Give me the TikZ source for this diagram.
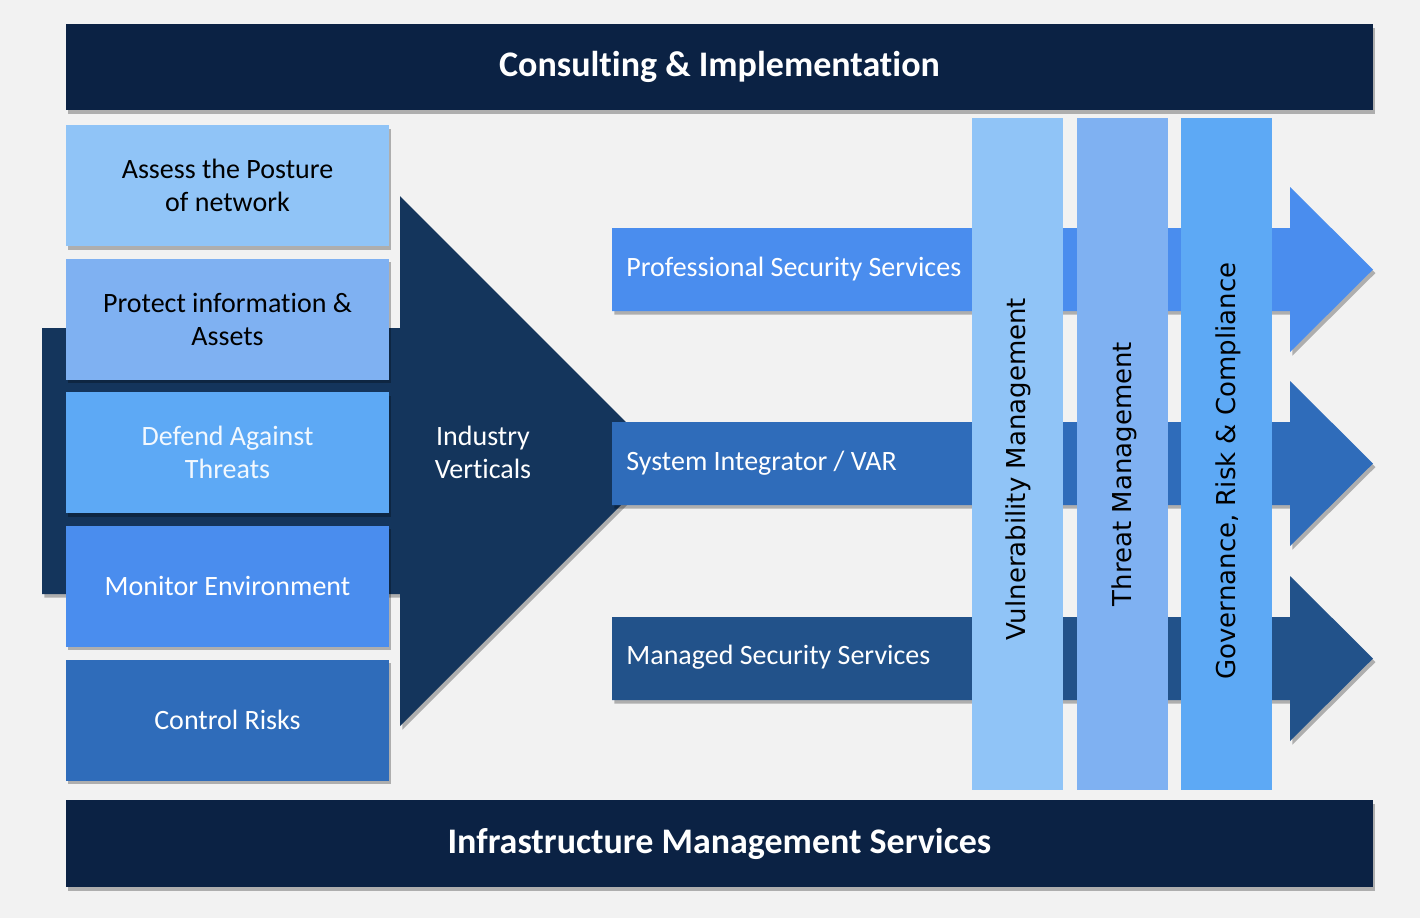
\documentclass[tikz,border=0pt]{standalone}
\usepackage{fontspec}
\setmainfont{Carlito}[Ligatures={NoCommon}]
\newfontfamily\vertfont{DejaVu Sans}
\usepackage{xcolor}
\usepackage{tikz}
\usetikzlibrary{shadows}
\definecolor{pagegray}{HTML}{F2F2F2}
\definecolor{barnavy}{HTML}{0B2244}
\definecolor{funnelnavy}{HTML}{14355C}
\definecolor{skyblue}{HTML}{90C4F7}
\definecolor{paleblue}{HTML}{7FB1F2}
\definecolor{midblue}{HTML}{5DA9F5}
\definecolor{brightblue}{HTML}{4A8DEE}
\definecolor{steelblue}{HTML}{2F6CBA}
\definecolor{deepblue}{HTML}{22528A}

\begin{document}
\begin{tikzpicture}[x=0.5pt,y=-0.5pt,
    shade/.style={drop shadow={shadow xshift=1.2pt,shadow yshift=-1.8pt,opacity=0.28,fill=black}},
    bar/.style={rectangle,fill=barnavy,minimum width=653.5pt,minimum height=43pt,inner sep=0pt,shade,font=\fontsize{18}{21}\selectfont\bfseries,text=white},
    goalbox/.style={rectangle,minimum width=161.5pt,minimum height=60.5pt,inner sep=0pt,shade,align=center,font=\fontsize{14}{16.5}\selectfont},
    column/.style={rectangle,minimum width=45.5pt,minimum height=336pt,inner sep=0pt},
    colname/.style={rotate=90,font=\vertfont\fontsize{13}{15}\selectfont},
    arrowname/.style={anchor=west,inner sep=0pt,text=white,font=\fontsize{14}{16}\selectfont}]
            \fill[pagegray] (0,0) rectangle (1420,918);
            \useasboundingbox (0,0) rectangle (1420,918);
            % top and bottom bars
            \node[bar] (consult) at (719.5,67) {Consulting \& Implementation};
            \node[bar,minimum height=43.5pt] (infra) at (719.5,843.5) {Infrastructure Management Services};
            % funnel
            \fill[funnelnavy,shade] (42,328) -- (400,328) -- (400,196) -- (665,461) -- (400,726) -- (400,594) -- (42,594) -- cycle;
            \node[align=center,text=white,font=\fontsize{14}{16.5}\selectfont] (verticals) at (483,452) {Industry\\Verticals};
            % goals on the left
            \node[goalbox,fill=skyblue] (assess) at (227.5,185.5) {Assess the Posture\\of network};
            \node[goalbox,fill=paleblue] (protect) at (227.5,319) {Protect information \&\\Assets};
            \node[goalbox,fill=midblue,text=white!92!midblue] (defend) at (227.5,452.5) {Defend Against\\Threats};
            \node[goalbox,fill=brightblue,text=white] (monitor) at (227.5,586) {Monitor Environment};
            \node[goalbox,fill=steelblue,text=white] (control) at (227.5,720) {Control Risks};
            % service arrows
            \fill[brightblue,shade] (612,228) -- (1290,228) -- (1290,187) -- (1373,269.5) -- (1290,352) -- (1290,311) -- (612,311) -- cycle;
            \fill[steelblue,shade] (612,422) -- (1290,422) -- (1290,381) -- (1373,463.5) -- (1290,546) -- (1290,505) -- (612,505) -- cycle;
            \fill[deepblue,shade] (612,617) -- (1290,617) -- (1290,576) -- (1373,658.5) -- (1290,741) -- (1290,700) -- (612,700) -- cycle;
            \node[arrowname] (pss) at (626,269.5) {Professional Security Services};
            \node[arrowname] (sivar) at (626,463) {System Integrator / VAR};
            \node[arrowname] (mss) at (626,657) {Managed Security Services};
            % management columns
            \node[column,fill=skyblue] (vulncol) at (1017.5,454) {};
            \node[column,fill=paleblue] (threatcol) at (1122.5,454) {};
            \node[column,fill=midblue] (grccol) at (1226.5,454) {};
            \node[colname] (vuln) at (1018,469) {Vulnerability Management};
            \node[colname] (threat) at (1124,474) {Threat Management};
            \node[colname] (grc) at (1228,471) {Governance, Risk \& Compliance};
        \end{tikzpicture}
\end{document}
